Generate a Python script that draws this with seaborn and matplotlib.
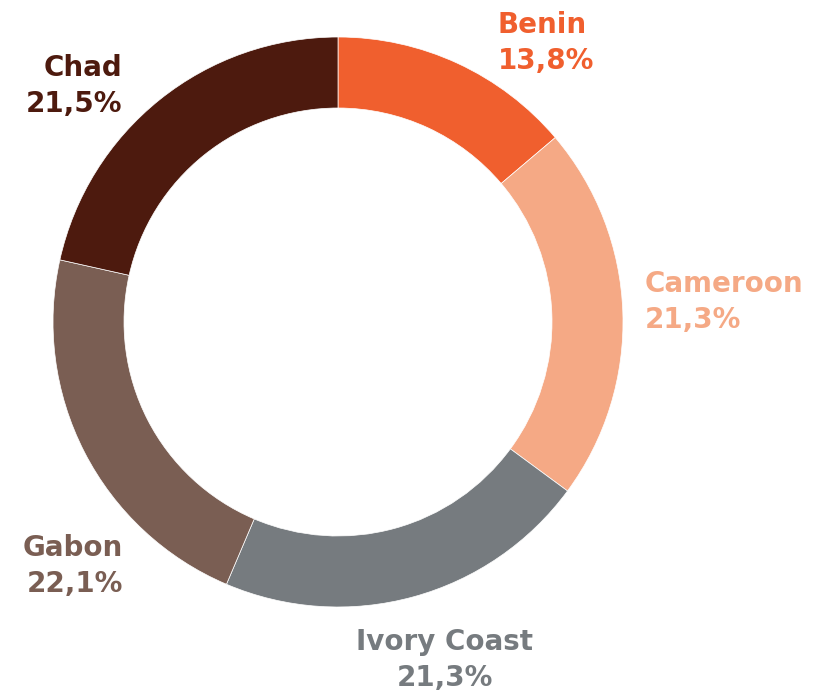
import matplotlib.pyplot as plt
import seaborn as sns

countries = ["Benin", "Cameroon", "Ivory Coast", "Gabon", "Chad"]
shares = [13.8, 21.3, 21.3, 22.1, 21.5]
colors = ["#F05F2E", "#F5A985", "#767B7F", "#7A5E53", "#4D1A0E"]

sns.set_theme(style="white")
plt.rcParams['font.family'] = ['DejaVu Sans']

W, H = 818, 697
fig = plt.figure(figsize=(W / 100, H / 100), dpi=100)
ax = fig.add_axes([0, 0, 1, 1])

# donut, starting at 12 o'clock and running clockwise
ax.pie(shares, colors=colors, startangle=90, counterclock=False,
       center=(338, H - 322), radius=285,
       wedgeprops=dict(width=71, edgecolor="white", linewidth=0.5))

# label placement, measured from the top-left of the image
label_pos = [(498, 43, "left"), (645, 302, "left"), (445, 660, "center"),
             (123, 566, "right"), (122, 86, "right")]
for name, val, col, (x, y, ha) in zip(countries, shares, colors, label_pos):
    txt = f"{name}\n{val:.1f}%".replace(".", ",")
    ax.text(x, H - y, txt, color=col, fontsize=20, fontweight="bold",
            ha=ha, va="center", multialignment=ha, linespacing=1.35)

ax.set_xlim(0, W)
ax.set_ylim(0, H)
ax.set_aspect("equal")
ax.axis("off")

fig.savefig("out.png", dpi=100, facecolor="white")
